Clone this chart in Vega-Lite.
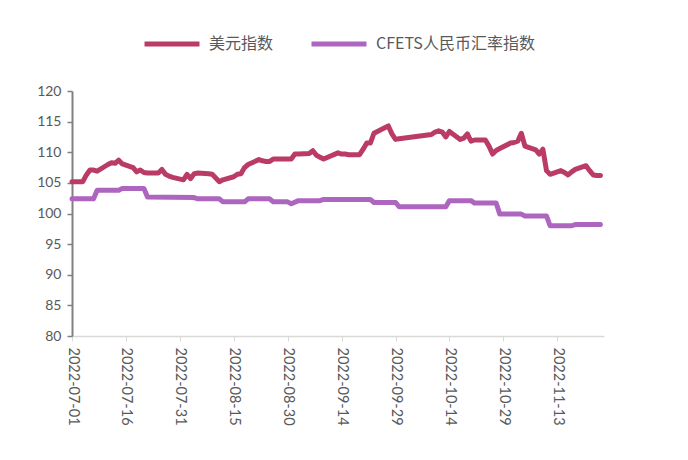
{
  "$schema": "https://vega.github.io/schema/vega-lite/v6.json",
  "width": 532,
  "height": 245,
  "autosize": "none",
  "padding": {"left": 72, "top": 91, "right": 84, "bottom": 124},
  "background": "white",
  "config": {
    "view": {"stroke": null},
    "font": "Lato"
  },
  "data": {
    "values": [
      {"s": "美元指数", "date": "2022-07-01", "v": 105.2}, {"s": "美元指数", "date": "2022-07-04", "v": 105.2}, {"s": "美元指数", "date": "2022-07-05", "v": 106.3},
      {"s": "美元指数", "date": "2022-07-06", "v": 107.1}, {"s": "美元指数", "date": "2022-07-07", "v": 107.1}, {"s": "美元指数", "date": "2022-07-08", "v": 106.9},
      {"s": "美元指数", "date": "2022-07-11", "v": 108.0}, {"s": "美元指数", "date": "2022-07-12", "v": 108.3}, {"s": "美元指数", "date": "2022-07-13", "v": 108.2},
      {"s": "美元指数", "date": "2022-07-14", "v": 108.7}, {"s": "美元指数", "date": "2022-07-15", "v": 108.1}, {"s": "美元指数", "date": "2022-07-18", "v": 107.5},
      {"s": "美元指数", "date": "2022-07-19", "v": 106.8}, {"s": "美元指数", "date": "2022-07-20", "v": 107.1}, {"s": "美元指数", "date": "2022-07-21", "v": 106.7},
      {"s": "美元指数", "date": "2022-07-22", "v": 106.6}, {"s": "美元指数", "date": "2022-07-25", "v": 106.6}, {"s": "美元指数", "date": "2022-07-26", "v": 107.2},
      {"s": "美元指数", "date": "2022-07-27", "v": 106.4}, {"s": "美元指数", "date": "2022-07-28", "v": 106.1}, {"s": "美元指数", "date": "2022-07-29", "v": 105.9},
      {"s": "美元指数", "date": "2022-08-01", "v": 105.5}, {"s": "美元指数", "date": "2022-08-02", "v": 106.4}, {"s": "美元指数", "date": "2022-08-03", "v": 105.7},
      {"s": "美元指数", "date": "2022-08-04", "v": 106.5}, {"s": "美元指数", "date": "2022-08-05", "v": 106.6}, {"s": "美元指数", "date": "2022-08-08", "v": 106.5},
      {"s": "美元指数", "date": "2022-08-09", "v": 106.4}, {"s": "美元指数", "date": "2022-08-10", "v": 105.8}, {"s": "美元指数", "date": "2022-08-11", "v": 105.2},
      {"s": "美元指数", "date": "2022-08-12", "v": 105.5}, {"s": "美元指数", "date": "2022-08-15", "v": 106.0}, {"s": "美元指数", "date": "2022-08-16", "v": 106.4},
      {"s": "美元指数", "date": "2022-08-17", "v": 106.5}, {"s": "美元指数", "date": "2022-08-18", "v": 107.5}, {"s": "美元指数", "date": "2022-08-19", "v": 108.0},
      {"s": "美元指数", "date": "2022-08-22", "v": 108.8}, {"s": "美元指数", "date": "2022-08-23", "v": 108.6}, {"s": "美元指数", "date": "2022-08-24", "v": 108.5},
      {"s": "美元指数", "date": "2022-08-25", "v": 108.5}, {"s": "美元指数", "date": "2022-08-26", "v": 108.9}, {"s": "美元指数", "date": "2022-08-29", "v": 108.9},
      {"s": "美元指数", "date": "2022-08-30", "v": 108.9}, {"s": "美元指数", "date": "2022-08-31", "v": 108.9}, {"s": "美元指数", "date": "2022-09-01", "v": 109.7},
      {"s": "美元指数", "date": "2022-09-02", "v": 109.7}, {"s": "美元指数", "date": "2022-09-05", "v": 109.8}, {"s": "美元指数", "date": "2022-09-06", "v": 110.25},
      {"s": "美元指数", "date": "2022-09-07", "v": 109.5}, {"s": "美元指数", "date": "2022-09-08", "v": 109.2}, {"s": "美元指数", "date": "2022-09-09", "v": 108.9},
      {"s": "美元指数", "date": "2022-09-13", "v": 109.9}, {"s": "美元指数", "date": "2022-09-14", "v": 109.7}, {"s": "美元指数", "date": "2022-09-15", "v": 109.7},
      {"s": "美元指数", "date": "2022-09-16", "v": 109.6}, {"s": "美元指数", "date": "2022-09-19", "v": 109.6}, {"s": "美元指数", "date": "2022-09-20", "v": 110.5},
      {"s": "美元指数", "date": "2022-09-21", "v": 111.5}, {"s": "美元指数", "date": "2022-09-22", "v": 111.5}, {"s": "美元指数", "date": "2022-09-23", "v": 113.1},
      {"s": "美元指数", "date": "2022-09-26", "v": 114.0}, {"s": "美元指数", "date": "2022-09-27", "v": 114.3}, {"s": "美元指数", "date": "2022-09-28", "v": 113.0},
      {"s": "美元指数", "date": "2022-09-29", "v": 112.1}, {"s": "美元指数", "date": "2022-09-30", "v": 112.2}, {"s": "美元指数", "date": "2022-10-09", "v": 112.9},
      {"s": "美元指数", "date": "2022-10-10", "v": 113.3}, {"s": "美元指数", "date": "2022-10-11", "v": 113.5}, {"s": "美元指数", "date": "2022-10-12", "v": 113.3},
      {"s": "美元指数", "date": "2022-10-13", "v": 112.5}, {"s": "美元指数", "date": "2022-10-14", "v": 113.4}, {"s": "美元指数", "date": "2022-10-17", "v": 112.1},
      {"s": "美元指数", "date": "2022-10-18", "v": 112.3}, {"s": "美元指数", "date": "2022-10-19", "v": 113.0}, {"s": "美元指数", "date": "2022-10-20", "v": 111.8},
      {"s": "美元指数", "date": "2022-10-21", "v": 112.0}, {"s": "美元指数", "date": "2022-10-24", "v": 112.0}, {"s": "美元指数", "date": "2022-10-25", "v": 111.0},
      {"s": "美元指数", "date": "2022-10-26", "v": 109.7}, {"s": "美元指数", "date": "2022-10-27", "v": 110.3}, {"s": "美元指数", "date": "2022-10-28", "v": 110.6},
      {"s": "美元指数", "date": "2022-10-31", "v": 111.5}, {"s": "美元指数", "date": "2022-11-01", "v": 111.6}, {"s": "美元指数", "date": "2022-11-02", "v": 111.8},
      {"s": "美元指数", "date": "2022-11-03", "v": 113.1}, {"s": "美元指数", "date": "2022-11-04", "v": 111.0}, {"s": "美元指数", "date": "2022-11-07", "v": 110.4},
      {"s": "美元指数", "date": "2022-11-08", "v": 109.7}, {"s": "美元指数", "date": "2022-11-09", "v": 110.5}, {"s": "美元指数", "date": "2022-11-10", "v": 107.0},
      {"s": "美元指数", "date": "2022-11-11", "v": 106.4}, {"s": "美元指数", "date": "2022-11-14", "v": 107.0}, {"s": "美元指数", "date": "2022-11-15", "v": 106.7},
      {"s": "美元指数", "date": "2022-11-16", "v": 106.3}, {"s": "美元指数", "date": "2022-11-17", "v": 106.8}, {"s": "美元指数", "date": "2022-11-18", "v": 107.2},
      {"s": "美元指数", "date": "2022-11-21", "v": 107.8}, {"s": "美元指数", "date": "2022-11-22", "v": 107.0}, {"s": "美元指数", "date": "2022-11-23", "v": 106.3},
      {"s": "美元指数", "date": "2022-11-24", "v": 106.2}, {"s": "美元指数", "date": "2022-11-25", "v": 106.2},
      {"s": "CFETS人民币汇率指数", "date": "2022-07-01", "v": 102.4}, {"s": "CFETS人民币汇率指数", "date": "2022-07-07", "v": 102.4}, {"s": "CFETS人民币汇率指数", "date": "2022-07-08", "v": 103.8},
      {"s": "CFETS人民币汇率指数", "date": "2022-07-14", "v": 103.8}, {"s": "CFETS人民币汇率指数", "date": "2022-07-15", "v": 104.1}, {"s": "CFETS人民币汇率指数", "date": "2022-07-21", "v": 104.1},
      {"s": "CFETS人民币汇率指数", "date": "2022-07-22", "v": 102.7}, {"s": "CFETS人民币汇率指数", "date": "2022-08-04", "v": 102.6}, {"s": "CFETS人民币汇率指数", "date": "2022-08-05", "v": 102.4},
      {"s": "CFETS人民币汇率指数", "date": "2022-08-11", "v": 102.4}, {"s": "CFETS人民币汇率指数", "date": "2022-08-12", "v": 101.9}, {"s": "CFETS人民币汇率指数", "date": "2022-08-18", "v": 101.9},
      {"s": "CFETS人民币汇率指数", "date": "2022-08-19", "v": 102.4}, {"s": "CFETS人民币汇率指数", "date": "2022-08-25", "v": 102.4}, {"s": "CFETS人民币汇率指数", "date": "2022-08-26", "v": 101.9},
      {"s": "CFETS人民币汇率指数", "date": "2022-08-30", "v": 101.9}, {"s": "CFETS人民币汇率指数", "date": "2022-08-31", "v": 101.6}, {"s": "CFETS人民币汇率指数", "date": "2022-09-02", "v": 102.1},
      {"s": "CFETS人民币汇率指数", "date": "2022-09-08", "v": 102.1}, {"s": "CFETS人民币汇率指数", "date": "2022-09-09", "v": 102.3}, {"s": "CFETS人民币汇率指数", "date": "2022-09-22", "v": 102.3},
      {"s": "CFETS人民币汇率指数", "date": "2022-09-23", "v": 101.8}, {"s": "CFETS人民币汇率指数", "date": "2022-09-29", "v": 101.8}, {"s": "CFETS人民币汇率指数", "date": "2022-09-30", "v": 101.1},
      {"s": "CFETS人民币汇率指数", "date": "2022-10-13", "v": 101.1}, {"s": "CFETS人民币汇率指数", "date": "2022-10-14", "v": 102.1}, {"s": "CFETS人民币汇率指数", "date": "2022-10-20", "v": 102.1},
      {"s": "CFETS人民币汇率指数", "date": "2022-10-21", "v": 101.7}, {"s": "CFETS人民币汇率指数", "date": "2022-10-27", "v": 101.7}, {"s": "CFETS人民币汇率指数", "date": "2022-10-28", "v": 99.9},
      {"s": "CFETS人民币汇率指数", "date": "2022-11-03", "v": 99.9}, {"s": "CFETS人民币汇率指数", "date": "2022-11-04", "v": 99.6}, {"s": "CFETS人民币汇率指数", "date": "2022-11-10", "v": 99.6},
      {"s": "CFETS人民币汇率指数", "date": "2022-11-11", "v": 98.0}, {"s": "CFETS人民币汇率指数", "date": "2022-11-17", "v": 98.0}, {"s": "CFETS人民币汇率指数", "date": "2022-11-18", "v": 98.2},
      {"s": "CFETS人民币汇率指数", "date": "2022-11-25", "v": 98.2}
    ]
  },
  "mark": {"type": "line", "strokeWidth": 5, "strokeCap": "round", "strokeJoin": "round"},
  "encoding": {
    "x": {
      "field": "date", "type": "temporal",
      "scale": {"type": "utc", "domain": [{"year": 2022, "month": 7, "date": 1, "utc": true}, {"year": 2022, "month": 11, "date": 26, "utc": true}]},
      "axis": {
        "title": null,
        "values": [
          {"year": 2022, "month": 7, "date": 1, "utc": true},
          {"year": 2022, "month": 7, "date": 16, "utc": true},
          {"year": 2022, "month": 7, "date": 31, "utc": true},
          {"year": 2022, "month": 8, "date": 15, "utc": true},
          {"year": 2022, "month": 8, "date": 30, "utc": true},
          {"year": 2022, "month": 9, "date": 14, "utc": true},
          {"year": 2022, "month": 9, "date": 29, "utc": true},
          {"year": 2022, "month": 10, "date": 14, "utc": true},
          {"year": 2022, "month": 10, "date": 29, "utc": true},
          {"year": 2022, "month": 11, "date": 13, "utc": true}
        ],
        "labelExpr": "utcFormat(datum.value, '%Y-%m-%d')",
        "labelAngle": 90,
        "labelAlign": "left",
        "labelBaseline": "middle",
        "labelFontSize": 14.5,
        "labelColor": "#595959",
        "labelPadding": 6,
        "labelOverlap": false,
        "labelFlush": false,
        "domainColor": "#d9d9d9",
        "domainWidth": 1.5,
        "tickColor": "#d9d9d9",
        "tickSize": 5,
        "grid": false
      }
    },
    "y": {
      "field": "v", "type": "quantitative",
      "scale": {"domain": [80, 120], "nice": false, "zero": false},
      "axis": {
        "title": null,
        "values": [80, 85, 90, 95, 100, 105, 110, 115, 120],
        "labelFontSize": 14,
        "labelColor": "#595959",
        "labelPadding": 6,
        "labelOverlap": false,
        "labelFlush": false,
        "domainColor": "#808080",
        "domainWidth": 2,
        "tickColor": "#808080",
        "tickWidth": 1.5,
        "tickSize": 5,
        "grid": false
      }
    },
    "color": {
      "field": "s", "type": "nominal",
      "scale": {"domain": ["美元指数", "CFETS人民币汇率指数"], "range": ["#BA3C66", "#AD66BF"]},
      "legend": {
        "title": null,
        "orient": "none",
        "legendX": 70,
        "legendY": -77,
        "direction": "horizontal",
        "symbolType": "stroke",
        "symbolSize": 3025,
        "symbolStrokeWidth": 5,
        "labelFont": "Noto Sans CJK SC",
        "labelFontSize": 16,
        "labelColor": "#595959",
        "labelOffset": 7,
        "columnPadding": 27
      }
    }
  }
}
